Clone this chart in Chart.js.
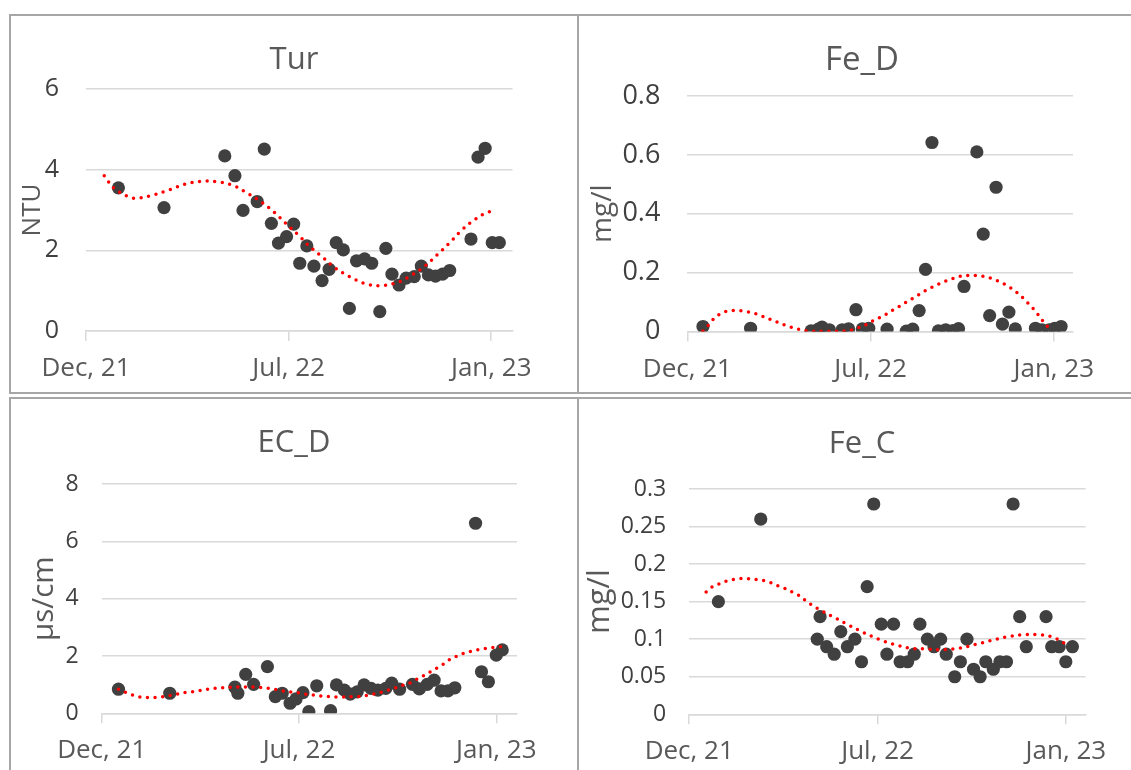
<!DOCTYPE html>
<html>
<head>
<meta charset="utf-8">
<title>Water quality time series</title>
<script src="https://cdn.jsdelivr.net/npm/chart.js@4.4.1/dist/chart.umd.min.js"></script>
<style>
  html, body { margin: 0; padding: 0; background: #ffffff; width: 1131px; height: 770px; overflow: hidden; }
  .panel { position: absolute; border: 2px solid #a6a6a6; overflow: hidden; background: #ffffff; }
  .panel canvas { display: block; }
</style>
</head>
<body>
<div class="panel" style="left:9px; top:14px; width:566px; height:376px;"><canvas id="cTur" width="566" height="376"></canvas></div>
<div class="panel" style="left:577px; top:14px; width:566px; height:376px;"><canvas id="cFeD" width="566" height="376"></canvas></div>
<div class="panel" style="left:9px; top:397px; width:566px; height:380px;"><canvas id="cECD" width="566" height="376"></canvas></div>
<div class="panel" style="left:577px; top:397px; width:566px; height:380px;"><canvas id="cFeC" width="566" height="376"></canvas></div>

<script>
// Shared time axis: days counted from the start of the axis
const tickDays = [0, 200, 400];
const tickLabels = ['Dec, 21', 'Jul, 22', 'Jan, 23'];
const axisEndDay = 421;

// Turbidity (NTU)
const turDays = [32, 77, 137, 147, 155, 169, 176, 183, 190, 198, 205, 211, 218, 225, 233, 240, 247, 254, 260, 267,
                 275, 282, 290, 296, 302, 309, 316, 324, 331, 338, 345, 352, 359, 380, 387, 394, 401, 408];
const turValues = [3.55, 3.06, 4.34, 3.85, 2.99, 3.21, 4.51, 2.67, 2.18, 2.34, 2.65, 1.68, 2.11, 1.61, 1.25, 1.53, 2.19, 2.01, 0.56, 1.74,
                   1.79, 1.68, 0.48, 2.05, 1.41, 1.14, 1.31, 1.35, 1.61, 1.39, 1.36, 1.41, 1.50, 2.28, 4.31, 4.53, 2.19, 2.19];
const turTrendDays = [18, 28, 42, 50, 66, 82, 98, 113, 129, 145, 159, 173, 186, 198, 210, 221, 234, 246, 260, 275,
                      290, 307, 322, 335, 347, 359, 370, 383, 396, 405];
const turTrendValues = [3.85, 3.53, 3.33, 3.29, 3.37, 3.50, 3.64, 3.71, 3.70, 3.61, 3.42, 3.20, 2.94, 2.65, 2.37, 2.09, 1.82, 1.56, 1.35, 1.18,
                        1.12, 1.20, 1.39, 1.62, 1.90, 2.19, 2.48, 2.75, 2.94, 2.97];

// Dissolved iron (mg/l)
const feDDays = [17, 69, 135, 143, 147, 155, 169, 176, 184, 191, 198, 218, 239, 246, 253, 260, 267, 274, 282, 290,
                 296, 302, 316, 323, 330, 337, 344, 351, 358, 380, 387, 395, 401, 408];
const feDValues = [0.017, 0.011, 0.002, 0.008, 0.015, 0.006, 0.006, 0.009, 0.074, 0.009, 0.011, 0.008, 0.001, 0.008, 0.071, 0.211, 0.642, 0.002, 0.006, 0.003,
                   0.010, 0.153, 0.610, 0.331, 0.054, 0.490, 0.025, 0.066, 0.009, 0.011, 0.006, 0.006, 0.011, 0.017];
const feDTrendDays = [17, 24, 29, 37, 46, 54, 64, 73, 81, 89, 98, 107, 115, 124, 132, 155, 176, 185, 194, 202,
                      210, 218, 225, 233, 241, 249, 256, 264, 272, 280, 289, 297, 307, 316, 324, 333, 341, 349, 357, 364,
                      370, 376, 382, 387, 393];
const feDTrendValues = [0.002, 0.025, 0.044, 0.062, 0.071, 0.071, 0.068, 0.062, 0.053, 0.043, 0.032, 0.021, 0.013, 0.006, 0.002, 0.001, 0.003, 0.011, 0.022, 0.035,
                        0.047, 0.060, 0.074, 0.088, 0.104, 0.118, 0.132, 0.146, 0.158, 0.169, 0.179, 0.187, 0.190, 0.190, 0.187, 0.179, 0.169, 0.156, 0.139, 0.121,
                        0.102, 0.083, 0.061, 0.040, 0.017];

// Electrical conductivity (µs/cm)
const ecDDays = [17, 69, 135, 138, 146, 154, 168, 176, 183, 191, 197, 204, 210, 218, 232, 238, 246, 252, 259, 266,
                 273, 280, 288, 294, 302, 315, 322, 330, 337, 344, 351, 358, 379, 385, 392, 400, 406];
const ecDValues = [0.84, 0.70, 0.91, 0.70, 1.36, 1.01, 1.63, 0.58, 0.70, 0.35, 0.50, 0.72, 0.06, 0.96, 0.09, 0.99, 0.81, 0.67, 0.75, 0.99,
                   0.87, 0.81, 0.87, 1.05, 0.84, 1.01, 0.85, 1.01, 1.16, 0.78, 0.78, 0.89, 6.63, 1.45, 1.10, 2.03, 2.21];
const ecDTrendDays = [17, 25, 33, 41, 50, 58, 66, 75, 83, 91, 99, 107, 115, 123, 132, 140, 148, 156, 165, 173,
                      181, 190, 198, 206, 215, 223, 232, 240, 257, 265, 274, 282, 290, 298, 306, 314, 321, 329, 336, 344,
                      351, 359, 367, 375, 383, 391, 398, 405];
const ecDTrendValues = [0.84, 0.72, 0.62, 0.56, 0.55, 0.56, 0.60, 0.66, 0.72, 0.75, 0.79, 0.84, 0.87, 0.89, 0.91, 0.92, 0.92, 0.91, 0.89, 0.85,
                        0.80, 0.75, 0.72, 0.67, 0.64, 0.60, 0.58, 0.57, 0.58, 0.60, 0.66, 0.72, 0.81, 0.89, 0.99, 1.08, 1.22, 1.36, 1.51, 1.66,
                        1.84, 1.98, 2.09, 2.17, 2.23, 2.27, 2.30, 2.32];

// Total iron (mg/l)
const feCDays = [31, 76, 136, 139, 146, 154, 161, 168, 176, 183, 189, 196, 204, 210, 217, 224, 232, 239, 245, 253,
                 260, 267, 273, 282, 288, 295, 302, 309, 315, 323, 330, 337, 344, 351, 358, 379, 385, 393, 400, 407];
const feCValues = [0.15, 0.26, 0.10, 0.13, 0.09, 0.08, 0.11, 0.09, 0.10, 0.07, 0.17, 0.28, 0.12, 0.08, 0.12, 0.07, 0.07, 0.08, 0.12, 0.10,
                   0.09, 0.10, 0.08, 0.05, 0.07, 0.10, 0.06, 0.05, 0.07, 0.06, 0.07, 0.07, 0.28, 0.13, 0.09, 0.13, 0.09, 0.09, 0.07, 0.09];
const feCTrendDays = [18, 26, 33, 41, 50, 59, 67, 76, 85, 92, 101, 109, 117, 124, 132, 139, 154, 169, 185, 201,
                      218, 235, 252, 269, 287, 304, 320, 337, 354, 371, 386, 394, 404];
const feCTrendValues = [0.163, 0.171, 0.174, 0.178, 0.180, 0.181, 0.180, 0.179, 0.176, 0.172, 0.168, 0.163, 0.158, 0.151, 0.144, 0.139, 0.129, 0.119, 0.109, 0.100,
                        0.093, 0.088, 0.087, 0.086, 0.088, 0.093, 0.098, 0.103, 0.106, 0.106, 0.103, 0.098, 0.090];

const FONT = "'Open Sans', 'DejaVu Sans', sans-serif";
const GRID = '#d9d9d9';

function pairs(xs, ys) {
  return xs.map((x, i) => ({ x: x, y: ys[i] }));
}

function fmt(v) {
  return String(+Number(v).toFixed(3));
}

function buildChart(id, p) {
  return new Chart(document.getElementById(id), {
    type: 'scatter',
    data: {
      datasets: [
        {
          label: 'trend',
          data: pairs(p.trendDays, p.trendValues),
          showLine: true,
          pointRadius: 0,
          borderColor: '#ff0000',
          borderWidth: 3.5,
          borderDash: [0, 7.6],
          borderCapStyle: 'round',
          tension: 0.35,
          fill: false
        },
        {
          label: p.title,
          data: pairs(p.days, p.values),
          pointRadius: 6.6,
          pointBackgroundColor: '#404040',
          pointBorderWidth: 0,
          showLine: false
        }
      ]
    },
    options: {
      responsive: false,
      animation: false,
      devicePixelRatio: 1,
      layout: { padding: 0 },
      plugins: {
        legend: { display: false },
        tooltip: { enabled: false },
        title: {
          display: true,
          text: p.title,
          color: '#595959',
          font: { family: FONT, size: p.titleSize, weight: 'normal', lineHeight: 1.2 },
          padding: { top: p.titleTop, bottom: p.titleGap }
        }
      },
      scales: {
        x: {
          type: 'linear',
          min: 0,
          max: axisEndDay,
          afterBuildTicks: axis => { axis.ticks = tickDays.map(v => ({ value: v })); },
          afterFit: axis => { axis.height = p.xHeight; },
          ticks: {
            autoSkip: false,
            maxRotation: 0,
            color: '#595959',
            font: { family: FONT, size: 26 },
            padding: 12,
            callback: (v, i) => tickLabels[i]
          },
          grid: { drawOnChartArea: false, drawTicks: true, tickLength: 10, color: GRID, lineWidth: 1.5 },
          border: { display: true, color: GRID, width: 1.5 }
        },
        y: {
          type: 'linear',
          position: 'left',
          min: 0,
          max: p.yMax,
          afterFit: axis => { axis.width = p.yWidth; },
          ticks: {
            stepSize: p.yStep,
            color: '#404040',
            font: { family: FONT, size: p.yTickSize },
            padding: p.yTickPad,
            callback: v => fmt(v)
          },
          grid: { color: GRID, lineWidth: 1.5, drawTicks: false },
          border: { display: false },
          title: {
            display: true,
            text: p.unit,
            color: '#595959',
            font: { family: FONT, size: p.unitSize, lineHeight: 1.2 },
            padding: { top: p.unitPad, bottom: 0 }
          }
        },
        yRight: {
          type: 'linear',
          position: 'right',
          display: true,
          afterFit: axis => { axis.width = p.rightGap; },
          ticks: { display: false },
          grid: { display: false },
          border: { display: false }
        }
      }
    }
  });
}

buildChart('cTur', {
  title: 'Tur', unit: 'NTU',
  days: turDays, values: turValues, trendDays: turTrendDays, trendValues: turTrendValues,
  yMax: 6, yStep: 2,
  yWidth: 75, rightGap: 64.5, xHeight: 61,
  titleSize: 31, titleTop: 26, titleGap: 9.8,
  yTickSize: 25, yTickPad: 27, unitSize: 26, unitPad: 6.4
});

buildChart('cFeD', {
  title: 'Fe_D', unit: 'mg/l',
  days: feDDays, values: feDValues, trendDays: feDTrendDays, trendValues: feDTrendValues,
  yMax: 0.8, yStep: 0.2,
  yWidth: 108.4, rightGap: 72, xHeight: 60.5,
  titleSize: 33, titleTop: 24.7, titleGap: 15.7,
  yTickSize: 27, yTickPad: 27, unitSize: 28, unitPad: 7.2
});

buildChart('cECD', {
  title: 'EC_D', unit: 'µs/cm',
  days: ecDDays, values: ecDValues, trendDays: ecDTrendDays, trendValues: ecDTrendValues,
  yMax: 8, yStep: 2,
  yWidth: 90.7, rightGap: 60, xHeight: 61.7,
  titleSize: 31, titleTop: 26, titleGap: 21.8,
  yTickSize: 23, yTickPad: 23, unitSize: 29.5, unitPad: 16.3
});

buildChart('cFeC', {
  title: 'Fe_C', unit: 'mg/l',
  days: feCDays, values: feCValues, trendDays: feCTrendDays, trendValues: feCTrendValues,
  yMax: 0.3, yStep: 0.05,
  yWidth: 110.2, rightGap: 59.4, xHeight: 60.7,
  titleSize: 31, titleTop: 26.5, titleGap: 26.3,
  yTickSize: 23, yTickPad: 23, unitSize: 31, unitPad: 2.4
});
</script>
</body>
</html>
